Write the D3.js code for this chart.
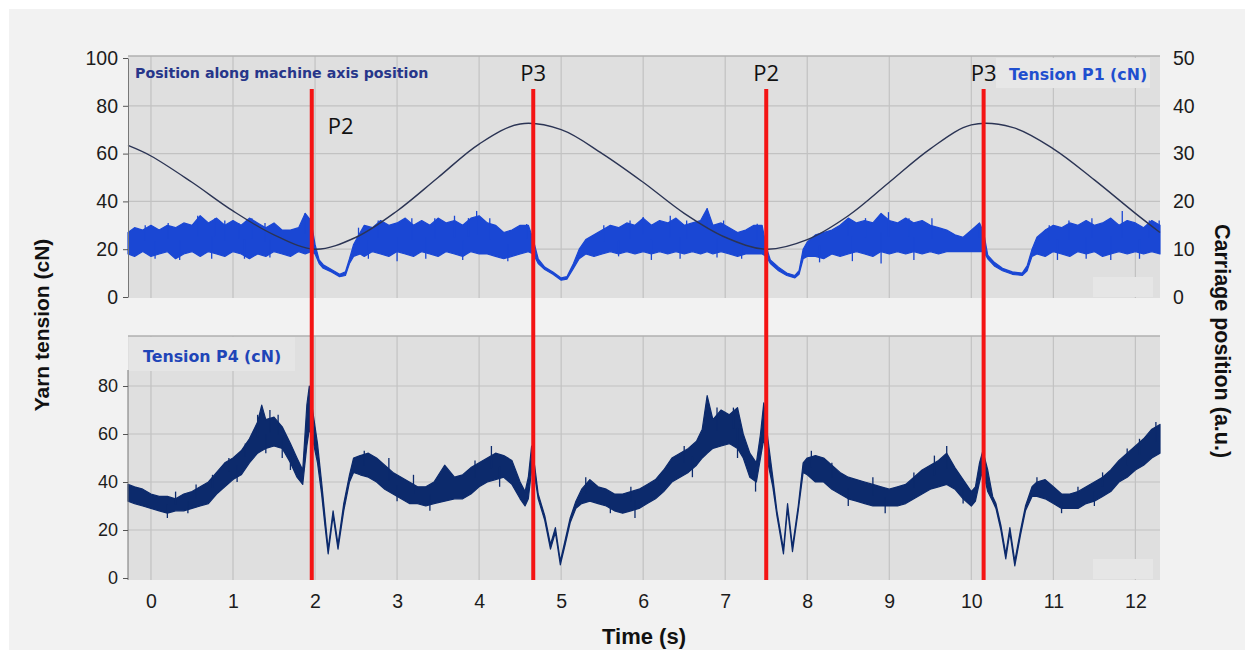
<!DOCTYPE html>
<html>
<head>
<meta charset="utf-8">
<script src="https://cdn.jsdelivr.net/npm/d3@7"></script>
<style>
  body { margin: 0; background: #fff; }
</style>
</head>
<body>
<svg id="chart" font-family="Liberation Sans, Arial, sans-serif"></svg>
<script>
// time ticks (s)
const xTicks = [0,1,2,3,4,5,6,7,8,9,10,11,12];
const yTicksTop = [0,20,40,60,80,100];
const yTicksBottom = [0,20,40,60,80];
const yTicksRight = [0,10,20,30,40,50];

const carriage = [
  [-0.28,31.7],[0,29.5],[0.5,24],[1,18],[1.5,13],[2,10],[2.5,12.5],[3,18],[3.5,25],
  [4,32],[4.5,36.2],[5,35],[5.5,30],[6,24],[6.5,17.5],[7,12.5],[7.5,10],[8,12],
  [8.5,17],[9,24],[9.5,31],[10,36],[10.5,35.5],[11,31],[11.5,24.5],[12,17.5],[12.3,13.5]
];

// tension P1 (cN): [time, lower edge, upper edge] of the noisy trace
const p1Band = [
  [-0.28,18,27],[-0.2,17,29],[-0.1,19,28],[0,17,30],[0.1,18,28],[0.2,19,30],[0.3,16,29],
  [0.4,18,31],[0.5,19,30],[0.6,17,34],[0.7,19,31],[0.8,18,33],[0.9,17,30],[1,19,32],
  [1.1,18,30],[1.2,16,33],[1.3,18,31],[1.4,17,29],[1.5,19,31],[1.6,18,28],[1.7,17,28],
  [1.8,19,29],[1.88,18,35],[1.95,19,32],[2,18,22],[2.05,14,15.5],[2.1,12,13.5],
  [2.2,10.5,11.5],[2.3,8.5,9.5],[2.37,9,10.5],[2.42,14,16],[2.47,17,22],[2.55,18,27],
  [2.6,17,30],[2.7,19,29],[2.8,18,32],[2.9,17,30],[3,19,31],[3.1,18,33],[3.2,17,30],
  [3.3,19,32],[3.4,18,30],[3.5,17,33],[3.6,19,31],[3.7,18,32],[3.8,17,30],[3.9,19,33],
  [4,18,34],[4.1,18,31],[4.2,17,30],[4.3,16,27],[4.4,17,28],[4.5,18,30],[4.6,19,30],
  [4.66,18,24],[4.72,14,16],[4.8,11.5,12.5],[4.9,9.5,10.5],[5,7,8],[5.07,7.5,8.5],
  [5.15,12,14],[5.22,16,20],[5.3,18,24],[5.4,17,26],[5.5,18,28],[5.6,19,30],[5.7,18,29],
  [5.8,19,31],[5.9,18,30],[6,19,33],[6.1,18,30],[6.2,19,32],[6.3,18,31],[6.4,19,33],
  [6.5,18,30],[6.6,19,31],[6.7,18,32],[6.78,19,37],[6.85,18,30],[6.95,19,31],[7.05,18,29],
  [7.15,17,27],[7.25,18,28],[7.35,18,30],[7.45,18,30],[7.5,17,21],[7.55,14,15.5],
  [7.65,11,12.5],[7.75,9,10],[7.85,8,9],[7.9,9.5,11],[7.95,16,20],[8,17,23],[8.1,17,26],
  [8.2,16,27],[8.3,18,28],[8.4,17,30],[8.5,18,33],[8.6,19,31],[8.7,18,32],[8.8,17,31],
  [8.9,19,35],[9,18,32],[9.1,19,31],[9.2,18,33],[9.3,19,31],[9.4,18,32],[9.5,19,30],
  [9.6,18,29],[9.7,19,28],[9.8,19,26],[9.9,19,25],[10,19,28],[10.1,19,31],[10.15,19,27],
  [10.2,16,17.5],[10.28,13,14.5],[10.38,11,12],[10.5,9.5,10.5],[10.62,9,10],[10.68,11,13],
  [10.74,17,20],[10.8,18,25],[10.9,17,28],[11,19,30],[11.1,18,29],[11.2,17,31],[11.3,19,30],
  [11.4,18,32],[11.5,19,30],[11.6,17,31],[11.7,18,33],[11.8,19,30],[11.9,18,32],[12,19,31],
  [12.1,18,29],[12.2,19,32],[12.3,18,30]
];
// single spikes sticking out of the P1 trace: [time, value]
const p1Spikes = [
  [-0.07,30],[0.21,31],[0.57,34],[0.78,33],[0.9,32],[1.07,31],[1.23,33],[1.39,31],[1.88,35],
  [2.53,29],[2.77,32],[3.18,33],[3.46,33],[3.7,34],[3.87,33],[3.97,36],[4.13,33],[4.58,30.5],
  [5.52,30],[5.84,32],[6.0,33.5],[6.33,34],[6.53,32],[6.78,37],[6.98,32],[7.39,30.7],
  [8.5,31],[8.71,33],[8.99,35.5],[9.24,33],[9.52,33],[10.09,30.7],[10.95,30],[11.19,32],
  [11.47,33],[11.84,36],[12.17,32],[12.29,32],
  [0.05,16],[0.35,15.5],[0.74,16],[1.14,16],[1.45,16.5],[2.65,16],[3.0,15],[3.35,16],
  [3.8,15.5],[4.35,15],[5.7,17],[6.1,15.5],[6.45,16],[6.9,16.5],[7.2,16],[8.15,14.5],
  [8.55,15],[8.9,14],[9.3,15.5],[11.05,15.5],[11.4,16],[11.7,15.5],[12.05,16]
];

// tension P4 (cN): [time, lower edge, upper edge]
const p4Band = [
  [-0.28,32,39],[-0.2,31,38],[-0.1,30,37],[0,29,35],[0.1,28,34],[0.2,27,34],[0.3,28,33],
  [0.4,28,35],[0.5,29,36],[0.6,30,38],[0.7,31,40],[0.8,35,44],[0.9,38,48],[1,41,50],
  [1.1,43,53],[1.2,48,58],[1.3,52,65],[1.35,53,72],[1.4,54,66],[1.5,55,67],[1.6,54,63],
  [1.7,48,56],[1.78,42,50],[1.85,39,45],[1.9,55,72],[1.93,62,80],[1.97,58,70],[2.03,48,56],
  [2.08,35,40],[2.12,22,26],[2.16,10,12],[2.22,26,28],[2.28,12,14],[2.35,28,31],[2.42,40,43],
  [2.47,44,50],[2.55,43,51],[2.65,42,52],[2.75,40,50],[2.85,37,47],[2.95,35,44],[3.05,33,42],
  [3.15,31,40],[3.25,31,38],[3.35,30,38],[3.45,31,40],[3.58,32,47],[3.7,33,42],[3.8,33,43],
  [3.9,35,46],[4,38,48],[4.1,40,50],[4.2,41,52],[4.3,42,51],[4.4,39,49],[4.5,33,40],
  [4.56,30,36],[4.6,33,42],[4.64,45,55],[4.68,42,46],[4.72,33,35],[4.8,24,26],[4.87,12,14],
  [4.93,19,21],[4.99,5.5,7],[5.05,14,16],[5.11,23,25],[5.18,29,32],[5.25,31,37],[5.35,32,41],
  [5.45,31,38],[5.55,30,37],[5.65,28,35],[5.75,27,35],[5.85,28,36],[5.95,29,37],[6.05,31,39],
  [6.15,33,41],[6.25,36,45],[6.35,40,50],[6.45,42,52],[6.55,44,54],[6.65,47,57],[6.72,50,62],
  [6.78,52,76],[6.85,54,66],[6.95,55,70],[7.05,56,68],[7.15,54,71],[7.22,50,60],[7.3,42,52],
  [7.38,40,48],[7.43,50,60],[7.47,58,73],[7.52,48,58],[7.58,38,42],[7.63,26,28],[7.71,10,12],
  [7.76,29,31],[7.82,11,13],[7.89,28,30],[7.95,44,48],[8,43,50],[8.1,40,51],[8.2,40,50],
  [8.3,37,47],[8.4,35,44],[8.5,33,42],[8.6,32,41],[8.7,31,40],[8.8,30,39],[8.9,30,38],
  [9,30,37],[9.1,30,38],[9.2,31,39],[9.3,33,42],[9.4,35,45],[9.5,37,47],[9.6,38,49],
  [9.7,39,52],[9.8,37,46],[9.9,33,41],[10,30,36],[10.05,32,38],[10.1,40,48],[10.14,45,53],
  [10.2,36,45],[10.26,32,34],[10.3,29,31],[10.36,20,22],[10.42,8,10],[10.47,19,21],
  [10.53,5,7],[10.6,18,20],[10.66,28,30],[10.74,34,38],[10.8,34,40],[10.9,33,41],[11,31,38],
  [11.1,29,35],[11.2,29,35],[11.3,29,36],[11.4,31,38],[11.5,32,40],[11.6,34,42],[11.7,36,45],
  [11.8,40,49],[11.9,42,52],[12,45,55],[12.1,47,58],[12.2,50,62],[12.3,52,64]
];
// single spikes sticking out of the P4 trace: [time, value]
const p4Spikes = [
  [0.3,36],[0.55,39],[0.75,43],[0.95,50],[1.15,56],[1.3,68],[1.45,70],[1.55,68],[2.6,53],
  [2.9,50],[3.2,43],[3.95,49],[4.15,55],[5.3,42],[5.85,38],[6.2,43],[6.5,55],[6.9,71],
  [7.1,71],[8.05,53],[8.3,48],[8.8,42],[9.3,44],[9.55,51],[9.7,55],[10.8,42],[11.3,38],
  [11.6,44],[11.9,54],[12.05,58],[12.25,65],
  [0.2,25],[0.45,27],[1.05,40],[1.4,52],[1.6,50],[1.7,45],[3.0,32],[3.4,28],[4.25,38],
  [5.6,27],[5.9,25],[6.6,42],[7.15,50],[7.37,36],[8.5,30],[8.95,27],[9.9,31],[11.1,27],[11.5,30]
];

// red markers
const markerTimes = [1.96, 4.66, 7.5, 10.15];
const markerLabels = ["P2", "P3", "P2", "P3"];

const width = 1253, height = 657;
const svg = d3.select("#chart").attr("width", width).attr("height", height);

const x = d3.scaleLinear().domain([-0.28, 12.3]).range([128, 1160]);
const yTop = d3.scaleLinear().domain([0, 100]).range([297, 58]);
const yRight = d3.scaleLinear().domain([0, 50]).range([297, 58]);
const yBot = d3.scaleLinear().domain([0, 100]).range([578, 338]);

// card background
svg.append("rect").attr("x", 9).attr("y", 9).attr("width", 1236).attr("height", 641).attr("fill", "#f2f2f2");

function panel(yScale, yTicks, top, bottom) {
  let g = svg.append("g");
  g.append("rect").attr("x", 128).attr("y", top).attr("width", 1160 - 128).attr("height", bottom - top)
    .attr("fill", "#dfdfdf");
  g.selectAll(".vg").data(xTicks).enter().append("line")
    .attr("x1", d => x(d)).attr("x2", d => x(d)).attr("y1", top).attr("y2", bottom)
    .attr("stroke", "#c2c2c2").attr("stroke-width", 1.2);
  g.selectAll(".hg").data(yTicks.filter(d => d > 0 && d < 100)).enter().append("line")
    .attr("x1", 128).attr("x2", 1160).attr("y1", d => yScale(d)).attr("y2", d => yScale(d))
    .attr("stroke", "#c2c2c2").attr("stroke-width", 1.2);
  g.append("line").attr("x1", 128).attr("x2", 1160).attr("y1", top).attr("y2", top)
    .attr("stroke", "#b0b0b0").attr("stroke-width", 1.5);
  // small lighter box in lower right corner
  g.append("rect").attr("x", 1093).attr("y", bottom - 21).attr("width", 60).attr("height", 20).attr("fill", "#e6e6e6");
  return g;
}

panel(yTop, yTicksTop, 56, 298);
panel(yBot, yTicksBottom, 336, 580);

// spikes go from the middle of the band out to the read value
function bandMid(band, t) {
  let i = d3.bisector(d => d[0]).left(band, t);
  i = Math.max(1, Math.min(band.length - 1, i));
  let a = band[i - 1], b = band[i];
  let k = (t - a[0]) / (b[0] - a[0]);
  return ((a[1] + a[2]) / 2) * (1 - k) + ((b[1] + b[2]) / 2) * k;
}

function drawTrace(band, spikes, yScale, color) {
  let area = d3.area().x(d => x(d[0])).y0(d => yScale(d[1])).y1(d => yScale(d[2]));
  svg.append("path").datum(band).attr("d", area)
    .attr("fill", color).attr("stroke", color).attr("stroke-width", 1.2).attr("stroke-linejoin", "round");
  svg.append("g").selectAll("line").data(spikes).enter().append("line")
    .attr("x1", d => x(d[0])).attr("x2", d => x(d[0]))
    .attr("y1", d => yScale(bandMid(band, d[0]))).attr("y2", d => yScale(d[1]))
    .attr("stroke", color).attr("stroke-width", 1.3);
}

drawTrace(p1Band, p1Spikes, yTop, "#1a47d4");

const posLine = d3.line().x(d => x(d[0])).y(d => yRight(d[1])).curve(d3.curveCatmullRom);
svg.append("path").datum(carriage).attr("d", posLine)
  .attr("fill", "none").attr("stroke", "#2b3454").attr("stroke-width", 1.4);

drawTrace(p4Band, p4Spikes, yBot, "#0c2a6c");

// series labels
svg.append("text").attr("x", 135).attr("y", 78).text("Position along machine axis position")
  .style("font-family", "DejaVu Sans, sans-serif")
  .attr("font-size", 14.2).attr("font-weight", "bold").attr("fill", "#27368a");
svg.append("rect").attr("x", 996).attr("y", 58).attr("width", 154).attr("height", 30).attr("fill", "#e7e7e7");
svg.append("text").attr("x", 1009).attr("y", 80).text("Tension P1 (cN)")
  .style("font-family", "DejaVu Sans, sans-serif")
  .attr("font-size", 15.8).attr("font-weight", "bold").attr("fill", "#1f4fcf");
svg.append("rect").attr("x", 129).attr("y", 337).attr("width", 166).attr("height", 34).attr("fill", "#e5e5e5");
svg.append("text").attr("x", 143).attr("y", 362).text("Tension P4 (cN)")
  .style("font-family", "DejaVu Sans, sans-serif")
  .attr("font-size", 15.8).attr("font-weight", "bold").attr("fill", "#1f45b8");

// axes
function styleAxis(g, size) {
  g.attr("font-family", null);
  g.select(".domain").attr("stroke", "#777");
  g.selectAll(".tick line").attr("stroke", "#555");
  g.selectAll(".tick text").attr("font-size", size).attr("fill", "#1c1c1c");
}

svg.append("g").attr("transform", "translate(128,0)")
  .call(d3.axisLeft(yTop).tickValues(yTicksTop).tickSize(5).tickPadding(5).tickSizeOuter(0))
  .call(g => styleAxis(g, 19.5));
svg.append("g").attr("transform", "translate(128,0)")
  .call(d3.axisLeft(yBot).tickValues(yTicksBottom).tickSize(5).tickPadding(5).tickSizeOuter(0))
  .call(g => { styleAxis(g, 18); g.select(".domain").attr("d", "M0,370V580"); });
svg.append("g").attr("transform", "translate(1160,0)")
  .call(d3.axisRight(yRight).tickValues(yTicksRight).tickSize(0).tickPadding(13))
  .call(g => { styleAxis(g, 19.5); g.select(".domain").remove(); });
svg.append("g").attr("transform", "translate(0,580)")
  .call(d3.axisBottom(x).tickValues(xTicks).tickSize(0).tickPadding(14))
  .call(g => { styleAxis(g, 19.5); g.select(".domain").remove(); });

// red markers
svg.selectAll(".marker").data(markerTimes).enter().append("line")
  .attr("x1", d => x(d)).attr("x2", d => x(d))
  .attr("y1", yTop(87)).attr("y2", yBot(0) + 2)
  .attr("stroke", "#f41414").attr("stroke-width", 4);
svg.selectAll(".mlabel").data(markerTimes).enter().append("text")
  .attr("x", (d, i) => i === 0 ? x(d) + 16 : x(d))
  .attr("y", (d, i) => i === 0 ? 134 : 81)
  .attr("text-anchor", (d, i) => i === 0 ? "start" : "middle")
  .style("font-family", "Open Sans, sans-serif").attr("font-size", 22).attr("fill", "#111")
  .text((d, i) => markerLabels[i]);

// axis titles
svg.append("text").attr("transform", "translate(49,325) rotate(-90)").attr("text-anchor", "middle")
  .attr("font-size", 21).attr("font-weight", "bold").attr("fill", "#111").text("Yarn tension (cN)");
svg.append("text").attr("transform", "translate(1215,341) rotate(90)").attr("text-anchor", "middle")
  .attr("font-size", 21.5).attr("font-weight", "bold").attr("fill", "#111").text("Carriage position (a.u.)");
svg.append("text").attr("x", 644).attr("y", 644).attr("text-anchor", "middle")
  .attr("font-size", 22).attr("font-weight", "bold").attr("fill", "#111").text("Time (s)");
</script>
</body>
</html>
